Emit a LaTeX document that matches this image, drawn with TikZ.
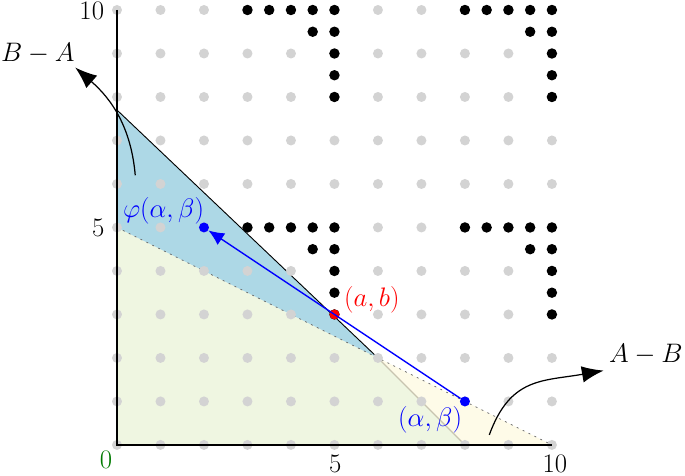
\RequirePackage{fix-cm}
\documentclass[tikz,border=0pt]{standalone}
\usepackage{amsmath}
\usepackage{xcolor}
\usepackage{tikz}
\usetikzlibrary{arrows.meta,positioning}
\definecolor{latblue}{HTML}{ADD8E6}
\definecolor{latgreen}{HTML}{EFF6E1}
\definecolor{latyellow}{HTML}{FEFBE8}
\definecolor{latgray}{HTML}{D3D3D3}
\definecolor{latedge}{HTML}{C8C4B0}
\definecolor{latdash}{HTML}{606060}
\definecolor{latzero}{HTML}{007A00}
\newcommand{\latfont}{\fontsize{17.5}{21}\selectfont}
\tikzset{
  bluedot/.style={circle,fill=blue,inner sep=0pt,minimum size=2.3mm},
  reddot/.style={circle,fill=red,inner sep=0pt,minimum size=2.3mm},
  axisline/.style={line width=1.6pt,draw=black},
  boundline/.style={semithick,draw=black},
  cutline/.style={thin,draw=latdash,dash pattern=on 1.3pt off 3pt},
  edgeline/.style={line width=0.8pt,draw=latedge},
  mapflow/.style={-{Latex[length=3.6mm,width=3.2mm]},line width=0.9pt,draw=blue},
  curveflow/.style={-{Latex[length=5mm,width=3.8mm]},thick,draw=black},
  ticklabel/.style={font=\latfont,inner sep=0pt},
  ptlabel/.style={font=\latfont}
}

\begin{document}
\begin{tikzpicture}
    \useasboundingbox (-2.69,-0.71) rectangle (13.06,10.23);

    \fill[latgreen] (0,0) -- (0,5) -- (6,2) -- (8,0) -- cycle;
    \fill[latyellow] (8,0) -- (6,2) -- (10,0) -- cycle;
    \fill[latblue] (0,5) -- (0,7.7) -- (6,2) -- cycle;
    \draw[edgeline] (6,2) -- (8,0);
    \draw[cutline] (0,5) -- (10,0);
    \draw[boundline] (0,7.7) -- (6,2);

    \foreach \x in {0,...,10}
      \foreach \y in {0,...,10}
        \fill[latgray] (\x,\y) circle (0.115);
    \foreach \o in {0,5} {
      \foreach \x in {3,3.5,4,4.5,5,8,8.5,9,9.5,10}
        \fill (\x,10-\o) circle (0.12);
      \foreach \x in {4.5,5,9.5,10}
        \fill (\x,9.5-\o) circle (0.12);
      \foreach \y in {9,8.5,8}
        \foreach \x in {5,10}
          \fill (\x,\y-\o) circle (0.12);
    }

    \draw[axisline] (0,10) -- (0,0) -- (10,0);

    \node[ticklabel] (y10) at (-0.58,9.98) {10};
    \node[ticklabel] (y5) at (-0.43,5) {5};
    \node[ticklabel,text=latzero] (zero) at (-0.25,-0.35) {0};
    \node[ticklabel] (x5) at (5.02,-0.44) {5};
    \node[ticklabel] (x10) at (10.07,-0.43) {10};

    \node[reddot] (ab) at (5,3) {};
    \node[bluedot] (start) at (8,1) {};
    \node[bluedot] (image) at (2,5) {};
    \draw[mapflow] (start) -- (image);

    \node[ptlabel,text=blue] (imagelabel) at (1.07,5.39) {$\varphi(\alpha,\beta)$};
    \node[ptlabel,text=red] (ablabel) at (5.86,3.34) {$(a,b)$};
    \node[ptlabel,text=blue] (startlabel) at (7.2,0.58) {$(\alpha,\beta)$};

    \node[ptlabel,inner sep=2pt] (BA) at (-1.82,8.99) {$B-A$};
    \node[ptlabel] (AB) at (12.16,2.07) {$A-B$};
    \coordinate (baroot) at (0.42,6.2);
    \coordinate (abroot) at (8.56,0.23);
    \draw[curveflow] (baroot) to[out=95,in=-41] (BA.-20);
    \draw[curveflow] (abroot) to[out=70,in=190,looseness=1.2] (AB.south west);
\end{tikzpicture}
\end{document}
